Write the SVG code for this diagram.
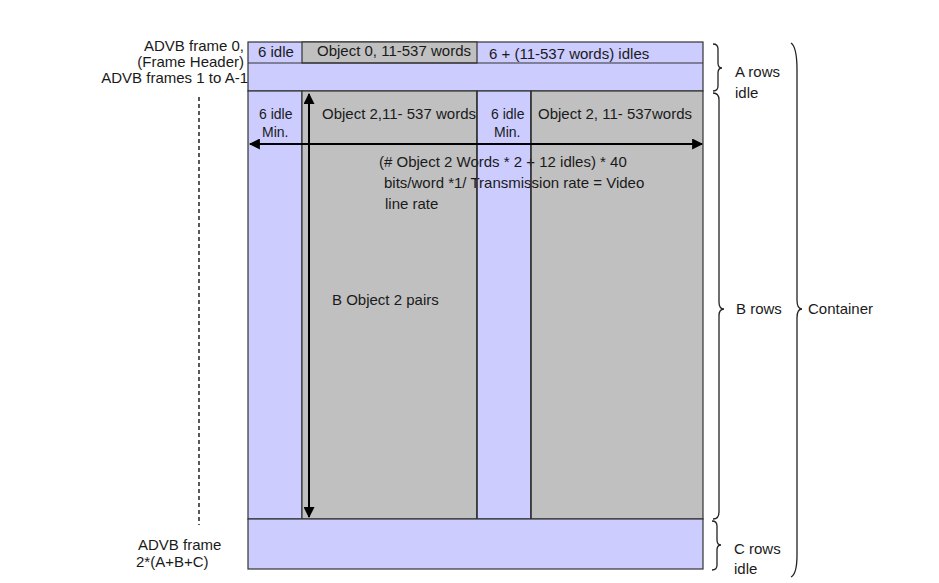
<svg xmlns="http://www.w3.org/2000/svg" width="939" height="583" viewBox="0 0 939 583">
<defs>
<style>
text{font-family:"Liberation Sans",Arial,sans-serif;font-size:15px;fill:#1a1a1a}
.s{font-size:14px}
.p{fill:#ccccff;stroke:#333;stroke-width:1.2}
.g{fill:#c0c0c0;stroke:#333;stroke-width:1.2}
.ln{stroke:#000;stroke-width:2;fill:none}
.br{stroke:#222;stroke-width:1.3;fill:none}
.r{text-anchor:end}
</style>
<marker id="ah" viewBox="0 0 10 10" refX="9" refY="5" markerWidth="6" markerHeight="5.5" orient="auto-start-reverse" markerUnits="strokeWidth">
<path d="M0,0 L10,5 L0,10 z" fill="#000"/>
</marker>
</defs>
<rect width="939" height="583" fill="#fff"/>
<g id="rowA">
<rect class="p" x="248" y="42" width="455" height="49"/>
<rect class="g" x="302" y="42" width="175" height="21"/>
<line x1="248" y1="63" x2="703" y2="63" stroke="#333" stroke-width="1.2"/>
<text x="258" y="57">6 idle</text>
<text x="317" y="56">Object 0, 11-537 words</text>
<text x="489" y="59">6 + (11-537 words) idles</text>
</g>
<g id="rowB">
<rect class="p" x="248" y="91" width="54" height="428"/>
<rect class="g" x="302" y="91" width="175" height="428"/>
<rect class="p" x="477" y="91" width="54" height="428"/>
<rect class="g" x="531" y="91" width="172" height="428"/>
<text class="s" x="259" y="119">6 idle</text>
<text class="s" x="262" y="137">Min.</text>
<text x="322" y="119">Object 2,11- 537 words</text>
<text class="s" x="491" y="119">6 idle</text>
<text class="s" x="494" y="137">Min.</text>
<text x="538" y="119">Object 2, 11- 537words</text>
<text x="379" y="167">(# Object 2 Words * 2 + 12 idles) * 40</text>
<text x="384" y="188">bits/word *1/ Transmission rate = Video</text>
<text x="385" y="209">line rate</text>
<text x="332" y="305">B Object 2 pairs</text>
<line x1="477" y1="91" x2="477" y2="519" stroke="#333" stroke-width="1.2"/>
<line x1="531" y1="91" x2="531" y2="519" stroke="#333" stroke-width="1.2"/>
</g>
<g id="rowC">
<rect class="p" x="248" y="519" width="455" height="50"/>
</g>
<g id="labels">
<text class="r" x="244" y="51">ADVB frame 0,</text>
<text class="r" x="244" y="67">(Frame Header)</text>
<text class="r" x="248" y="83">ADVB frames 1 to A-1</text>
<text x="138" y="550">ADVB frame</text>
<text x="136" y="567">2*(A+B+C)</text>
<text x="735" y="77">A rows</text>
<text x="735" y="98">idle</text>
<text x="736" y="314">B rows</text>
<text x="808" y="314">Container</text>
<text x="734" y="554">C rows</text>
<text x="734" y="574">idle</text>
</g>
<g id="connectors">
<line class="ln" x1="309" y1="94" x2="309" y2="517" marker-start="url(#ah)" marker-end="url(#ah)"/>
<line class="ln" x1="250" y1="144" x2="702" y2="144" marker-start="url(#ah)" marker-end="url(#ah)"/>
<line x1="199" y1="97" x2="199" y2="525" stroke="#000" stroke-width="1.3" stroke-dasharray="4,3"/>
<path class="br" d="M713,44 Q718,44 718,49 L718,63 Q718,68 722,68 Q718,68 718,73 L718,86 Q718,91 713,91"/>
<path class="br" d="M713,93 Q719,93 719,100 L719,302 Q719,309 724,309 Q719,309 719,316 L719,512 Q719,519 713,519"/>
<path class="br" d="M712,521 Q717,521 717,526 L717,540 Q717,545 721,545 Q717,545 717,550 L717,565 Q717,570 712,570"/>
<path class="br" d="M791,43 Q797,47 797,70 L797,300 Q797,309 802,309 Q797,309 797,318 L797,555 Q797,574 791,577"/>
</g>
</svg>
